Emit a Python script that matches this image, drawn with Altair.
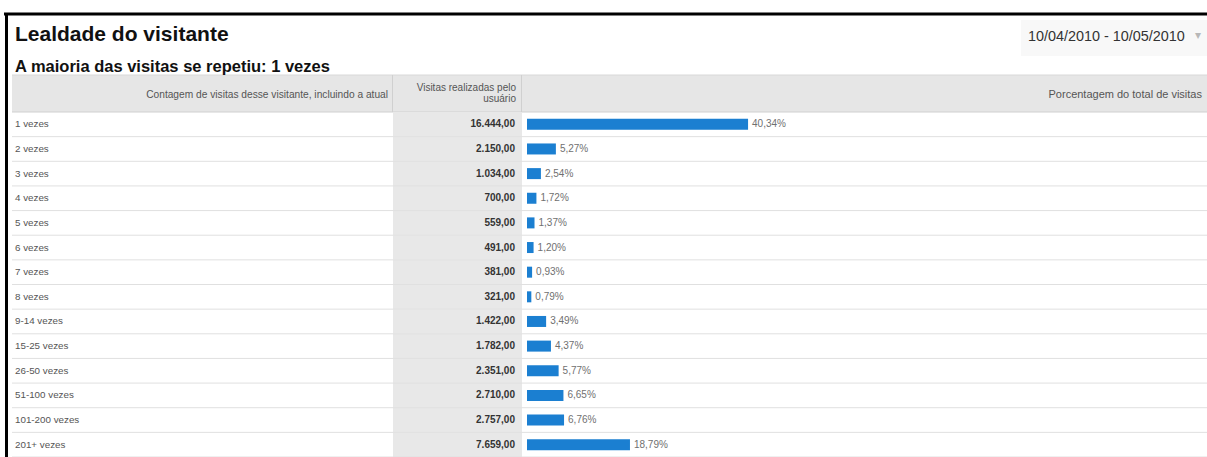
import altair as alt
import pandas as pd

labels = ["1 vezes", "2 vezes", "3 vezes", "4 vezes", "5 vezes", "6 vezes", "7 vezes",
          "8 vezes", "9-14 vezes", "15-25 vezes", "26-50 vezes", "51-100 vezes",
          "101-200 vezes", "201+ vezes"]
visits = [16444, 2150, 1034, 700, 559, 491, 381, 321, 1422, 1782, 2351, 2710, 2757, 7659]
pct = [40.34, 5.27, 2.54, 1.72, 1.37, 1.20, 0.93, 0.79, 3.49, 4.37, 5.77, 6.65, 6.76, 18.79]

title = "Lealdade do visitante"
subtitle = "A maioria das visitas se repetiu: 1 vezes"
date_range = "10/04/2010 - 10/05/2010"
head1 = "Contagem de visitas desse visitante, incluindo a atual"
head2 = ["Visitas realizadas pelo", "usuário"]
head3 = "Porcentagem do total de visitas"


def br_num(v):
    return f"{v:,.2f}".replace(",", "X").replace(".", ",").replace("X", ".")


df = pd.DataFrame({
    "label": labels,
    "visits": visits,
    "pct": pct,
    "visits_txt": [br_num(v) for v in visits],
    "pct_txt": [f"{p:.2f}".replace(".", ",") + "%" for p in pct],
})

FONT = "Liberation Sans"
W, H, TOP = 1207, 345, 112

yenc = alt.Y("label:N", sort=labels,
             scale=alt.Scale(paddingInner=0, paddingOuter=0), axis=None)
xscale = alt.Scale(domain=[0, 100], range=[527, 1075])

base = alt.Chart(df)
one = alt.Data(values=[{"k": 1}])


def static_text(txt, x, y, size, **kw):
    return alt.Chart(one).mark_text(font=FONT, fontSize=size, **kw).encode(
        x=alt.value(x), y=alt.value(y), text=alt.value(txt))


def static_rule(x, x2, y, y2, color, sw=1):
    return alt.Chart(one).mark_rule(color=color, strokeWidth=sw).encode(
        x=alt.value(x), x2=alt.value(x2), y=alt.value(y), y2=alt.value(y2))


date_box = alt.Chart(one).mark_rect(color="#f8f8f8").encode(
    x=alt.value(1021), x2=alt.value(1207), y=alt.value(20 - TOP), y2=alt.value(56 - TOP))

header_bg = alt.Chart(one).mark_rect(color="#e6e6e6").encode(
    x=alt.value(12), x2=alt.value(1207), y=alt.value(75 - TOP), y2=alt.value(0))

col2_bg = base.mark_rect(color="#e8e8e8").encode(
    y=yenc, x=alt.value(393), x2=alt.value(522))

row_rules = base.mark_rule(color="#e0e0e0", strokeWidth=1).encode(
    y=alt.Y("label:N", sort=labels, bandPosition=1,
            scale=alt.Scale(paddingInner=0, paddingOuter=0), axis=None),
    x=alt.value(12), x2=alt.value(1207))

bars = base.mark_bar(color="#1b7fd1", size=11).encode(
    y=yenc,
    x=alt.X("pct:Q", scale=xscale, axis=None),
    x2=alt.datum(0),
)

pct_text = base.mark_text(font=FONT, fontSize=10, color="#707070", align="left", dx=4).encode(
    y=yenc, x=alt.X("pct:Q", scale=xscale, axis=None), text="pct_txt:N")

row_labels = base.mark_text(font=FONT, fontSize=9.8, color="#555555", align="left").encode(
    y=yenc, x=alt.value(15), text="label:N")

val_text = base.mark_text(font=FONT, fontSize=10, color="#333333", align="right",
                          fontWeight="bold").encode(
    y=yenc, x=alt.value(515), text="visits_txt:N")

layers = [
    date_box,
    header_bg,
    static_rule(12, 1207, 75 - TOP, 75 - TOP, "#d8d8d8"),
    static_rule(12, 1207, 0, 0, "#d0d0d0"),
    static_rule(392.5, 392.5, 75 - TOP, 0, "#d0d0d0"),
    static_rule(521.5, 521.5, 75 - TOP, 0, "#d0d0d0"),
    col2_bg,
    row_rules,
    bars,
    pct_text,
    row_labels,
    val_text,
    static_text(title, 15, 41 - TOP, 21, fontWeight="bold", color="#111111",
                align="left", baseline="alphabetic"),
    static_text(subtitle, 15, 72 - TOP, 16.5, fontWeight="bold", color="#111111",
                align="left", baseline="alphabetic"),
    static_text(date_range, 1028, 41 - TOP, 14.4, color="#333333",
                align="left", baseline="alphabetic"),
    static_text("▾", 1198, 39 - TOP, 12, color="#b8b8b8", align="center",
                baseline="alphabetic"),
    static_text(head1, 388, 95 - TOP, 10.2, color="#555555", align="right", baseline="middle"),
    static_text(head2, 516, 88 - TOP, 10, color="#555555", align="right",
                baseline="middle", lineHeight=11),
    static_text(head3, 1202, 95 - TOP, 11, color="#555555", align="right", baseline="middle"),
    static_rule(4, 1207, 14 - TOP, 14 - TOP, "#000000", 3),
    static_rule(6.5, 6.5, 13 - TOP, H, "#000000", 3),
]

chart = alt.layer(*layers).properties(
    width=W, height=H,
    autosize=alt.AutoSizeParams(type="none"),
    padding={"left": 0, "top": TOP, "right": 0, "bottom": 0},
    background="white",
).configure_view(stroke=None)

chart.save("out.html", embed_options={"renderer": "svg", "actions": False})
